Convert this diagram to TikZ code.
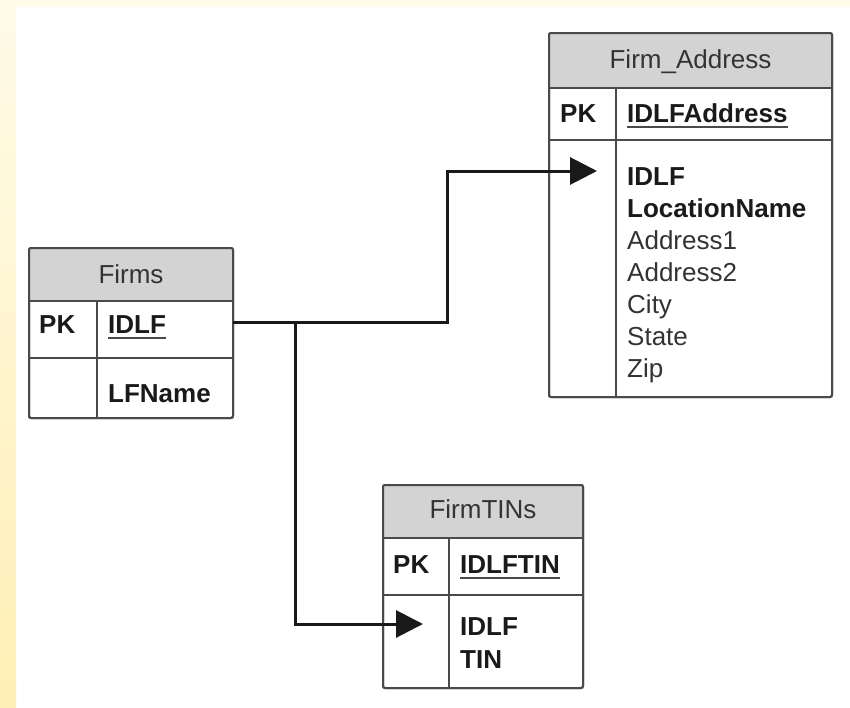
\documentclass[tikz,border=0pt]{standalone}
\usepackage{fontspec}
\setmainfont{Liberation Sans}
\usetikzlibrary{arrows.meta}
\definecolor{hdrfill}{HTML}{D3D3D3}
\definecolor{bordc}{HTML}{4A4A4A}
\definecolor{txtc}{HTML}{333333}
\definecolor{keyc}{HTML}{1A1A1A}
\definecolor{bgtop}{HTML}{FFFCEC}
\definecolor{bgl1}{HTML}{FFFBE8}
\definecolor{bgl2}{HTML}{FFEFB5}
\begin{document}
\begin{tikzpicture}[x=1pt,y=-1pt,
  tbl/.style={draw=bordc, line width=2pt, rounded corners=2pt, inner sep=0pt, outer sep=0pt, fill=white},
  sep/.style={draw=bordc, line width=1.6pt},
  hdrtext/.style={font=\fontsize{26}{30}\selectfont, text=txtc, anchor=base, inner sep=0pt},
  pktext/.style={font=\bfseries\fontsize{26}{30}\selectfont, text=keyc, anchor=base west, inner sep=0pt},
  keyfield/.style={font=\bfseries\fontsize{26}{30}\selectfont, text=keyc, anchor=base west, inner sep=0pt},
  plainfield/.style={font=\fontsize{26}{30}\selectfont, text=txtc, anchor=base west, inner sep=0pt},
  uline/.style={draw=bordc, line width=2pt},
  conn/.style={draw=black!90, line width=3pt},
  tip/.style={-{Triangle[length=27pt,width=27pt]}}
]
% background
\useasboundingbox (0,0) rectangle (850,707);
\fill[white] (0,0) rectangle (850,707);
\fill[bgtop] (0,0) rectangle (850,7);
\shade[top color=bgl1, bottom color=bgl2] (0,0) rectangle (16,707);

% ---------- Firms ----------
\node[tbl, minimum width=204pt, minimum height=170pt, anchor=north west] (firms) at (29,248) {};
\fill[hdrfill, rounded corners=2pt] (29,248) rectangle (233,301);
\draw[sep] (29,301) -- (233,301);
\draw[sep] (29,358) -- (233,358);
\draw[sep] (97,301) -- (97,418);
\draw[draw=bordc, line width=2pt, rounded corners=2pt] (firms.north west) rectangle (firms.south east);
\node[hdrtext] (firmsh) at (131,283) {Firms};
\node[pktext] (firmspk) at (39,333) {PK};
\node[keyfield] (firmsid) at (108,333) {IDLF};
\draw[uline] (firmsid.base west) ++(0,5) -- ++(58,0);
\node[keyfield] (firmsname) at (108,402) {LFName};

% ---------- Firm_Address ----------
\node[tbl, minimum width=283pt, minimum height=364pt, anchor=north west] (fa) at (549,33) {};
\fill[hdrfill, rounded corners=2pt] (549,33) rectangle (832,88);
\draw[sep] (549,88) -- (832,88);
\draw[sep] (549,140) -- (832,140);
\draw[sep] (616,88) -- (616,397);
\draw[draw=bordc, line width=2pt, rounded corners=2pt] (fa.north west) rectangle (fa.south east);
\node[hdrtext] (fah) at (690.5,68) {Firm\_Address};
\node[pktext] (fapk) at (560,122) {PK};
\node[keyfield] (faid) at (627,122) {IDLFAddress};
\draw[uline] (faid.base west) ++(0,5) -- (faid.base east |- 0,127);
\node[keyfield] (f1) at (627,185) {IDLF};
\node[keyfield] (f2) at (627,217) {LocationName};
\node[plainfield] (f3) at (627,249) {Address1};
\node[plainfield] (f4) at (627,281) {Address2};
\node[plainfield] (f5) at (627,313) {City};
\node[plainfield] (f6) at (627,345) {State};
\node[plainfield] (f7) at (627,377) {Zip};

% ---------- FirmTINs ----------
\node[tbl, minimum width=200pt, minimum height=203pt, anchor=north west] (ft) at (383,485) {};
\fill[hdrfill, rounded corners=2pt] (383,485) rectangle (583,538);
\draw[sep] (383,538) -- (583,538);
\draw[sep] (383,595) -- (583,595);
\draw[sep] (449,538) -- (449,688);
\draw[draw=bordc, line width=2pt, rounded corners=2pt] (ft.north west) rectangle (ft.south east);
\node[hdrtext] (fth) at (483,518) {FirmTINs};
\node[pktext] (ftpk) at (393,573) {PK};
\node[keyfield] (ftid) at (460,573) {IDLFTIN};
\draw[uline] (ftid.base west) ++(0,5) -- (ftid.base east |- 0,578);
\node[keyfield] (t1) at (460,635) {IDLF};
\node[keyfield] (t2) at (460,668) {TIN};

% ---------- connectors ----------
\coordinate (out) at (233,322);
\coordinate (junc) at (295,322);
\coordinate (fain) at (597,171);
\coordinate (ftin) at (423,624);
\draw[conn, tip] (out) -- ++(214,0) |- (fain);
\draw[conn, tip] (junc) |- (ftin);
\end{tikzpicture}
\end{document}
